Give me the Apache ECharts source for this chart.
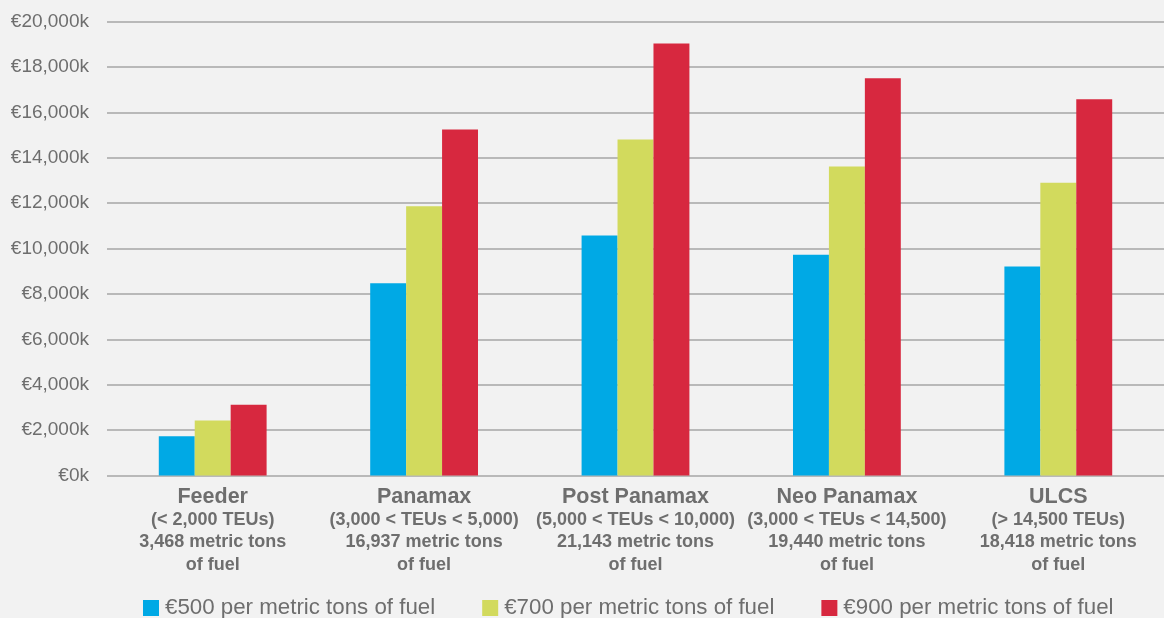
<!DOCTYPE html>
<html>
<head>
<meta charset="utf-8">
<script src="https://cdn.jsdelivr.net/npm/echarts@6/dist/echarts.min.js"></script>
<style>
  html, body { margin: 0; padding: 0; background: #f2f2f2; }
  #chart { width: 1164px; height: 618px; }
</style>
</head>
<body>
<div id="chart"></div>
<script>
// Ship classes, with size range and yearly fuel consumption
const shipClasses = ['Feeder', 'Panamax', 'Post Panamax', 'Neo Panamax', 'ULCS'];
const teuRanges = ['(< 2,000 TEUs)', '(3,000 < TEUs < 5,000)', '(5,000 < TEUs < 10,000)', '(3,000 < TEUs < 14,500)', '(> 14,500 TEUs)'];
const fuelTons = ['3,468 metric tons', '16,937 metric tons', '21,143 metric tons', '19,440 metric tons', '18,418 metric tons'];

// Annual fuel cost in thousands of euros, per fuel price
const seriesNames = ['€500 per metric tons of fuel', '€700 per metric tons of fuel', '€900 per metric tons of fuel'];
const cost500 = [1734, 8469, 10572, 9720, 9209];
const cost700 = [2428, 11856, 14800, 13608, 12893];
const cost900 = [3121, 15243, 19029, 17496, 16576];
const seriesColors = ['#00a9e5', '#d2da5d', '#d7283f'];

const textGrey = '#6e6e6e';
const font = '"Liberation Sans", Arial, sans-serif';

const chart = echarts.init(document.getElementById('chart'), null, { renderer: 'canvas' });

chart.setOption({
  backgroundColor: '#f2f2f2',
  animation: false,
  grid: { left: 107, right: 0, top: 21.5, bottom: 142.5, containLabel: false },
  legend: {
    left: 143,
    top: 597,
    padding: 0,
    itemWidth: 16,
    itemHeight: 16,
    itemGap: 47,
    icon: 'rect',
    textStyle: { fontSize: 22.3, color: textGrey, fontFamily: font, padding: [0, 0, 0, 1] },
    data: seriesNames
  },
  xAxis: {
    type: 'category',
    data: shipClasses,
    axisLine: { show: false },
    axisTick: { show: false },
    axisLabel: {
      margin: 10,
      interval: 0,
      formatter: (value, idx) =>
        `{name|${value}}\n{sub|${teuRanges[idx]}}\n{sub|${fuelTons[idx]}}\n{sub|of fuel}`,
      rich: {
        name: { fontSize: 21.5, fontWeight: 'bold', color: textGrey, fontFamily: font, lineHeight: 22.7, align: 'center' },
        sub: { fontSize: 18, fontWeight: 'bold', color: textGrey, fontFamily: font, lineHeight: 22.7, align: 'center' }
      }
    }
  },
  yAxis: {
    type: 'value',
    min: 0,
    max: 20000,
    interval: 2000,
    axisLine: { show: false },
    axisTick: { show: false },
    axisLabel: {
      margin: 18,
      fontSize: 19,
      color: textGrey,
      fontFamily: font,
      formatter: v => '€' + v.toLocaleString('en-US') + 'k'
    },
    splitLine: { lineStyle: { color: '#b9b9b9', width: 2 } }
  },
  series: [cost500, cost700, cost900].map((values, i) => ({
    name: seriesNames[i],
    type: 'bar',
    data: values,
    barGap: '0%',
    barCategoryGap: '49%',
    itemStyle: { color: seriesColors[i] }
  }))
});
</script>
</body>
</html>
